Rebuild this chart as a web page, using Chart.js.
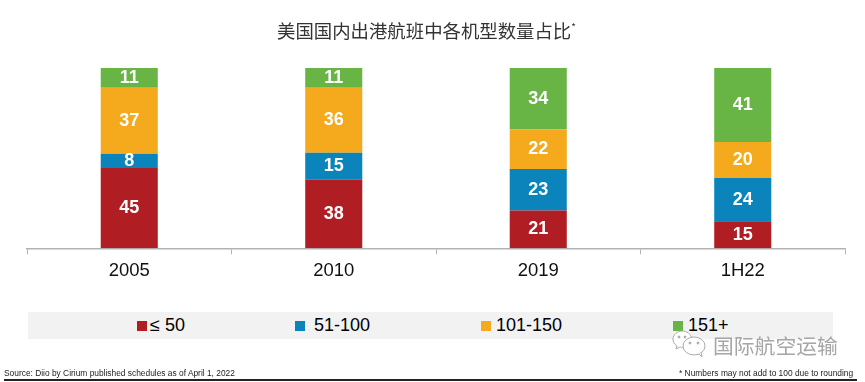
<!DOCTYPE html>
<html>
<head>
<meta charset="utf-8">
<script src="https://cdn.jsdelivr.net/npm/chart.js@4"></script>
<style>
  html, body { margin: 0; padding: 0; background: #fff; }
  #wrap { position: relative; width: 865px; height: 382px; overflow: hidden; font-family: "Liberation Sans", Arial, sans-serif; }
  #wrap canvas { position: absolute; left: 0; top: 0; }
  .abs { position: absolute; white-space: nowrap; }
  #title { left: 277px; top: 19px; font: 18.4px "Noto Sans CJK SC", sans-serif; line-height: 22px; color: #333; }
  #title sup { font-size: 10px; line-height: 0; }
  #band { left: 28px; top: 312px; width: 805px; height: 27px; background: #f2f2f2; }
  .swatch { position: absolute; top: 321px; width: 10px; height: 10px; }
  .legtext { top: 315px; font-size: 18px; line-height: 20px; color: #000; }
  .small { top: 368px; line-height: 10px; color: #222; }
  #rule { left: 4px; top: 379px; height: 2px; background: #222; width: 853px; }
  #mark { left: 672px; top: 327px; }
  #marktext { left: 713px; top: 332px; font: 20.8px "Noto Sans CJK SC", sans-serif; line-height: 26px; color: #a6a6a6; }
</style>
</head>
<body>
<div id="wrap">
  <canvas id="chart" width="865" height="382"></canvas>
  <div class="abs" id="title">美国国内出港航班中各机型数量占比<sup>*</sup></div>
  <div class="abs" id="band"></div>
  <div class="swatch" style="left:137px;background:#b01e23"></div>
  <div class="abs legtext" style="left:150px">≤ 50</div>
  <div class="swatch" style="left:295px;background:#0a84bb"></div>
  <div class="abs legtext" style="left:314px">51-100</div>
  <div class="swatch" style="left:481px;background:#f4aa1c"></div>
  <div class="abs legtext" style="left:496px">101-150</div>
  <div class="swatch" style="left:673px;background:#68b445"></div>
  <div class="abs legtext" style="left:688px">151+</div>
  <div class="abs small" style="left:4px;font-size:8.4px">Source: Diio by Cirium published schedules as of April 1, 2022</div>
  <div class="abs small" style="left:679px;font-size:8.4px">* Numbers may not add to 100 due to rounding</div>
  <div class="abs" id="rule"></div>
  <svg class="abs" id="mark" width="40" height="32" viewBox="0 0 40 32" fill="#fff" stroke="#aaa" stroke-width="1">
    <path d="M20 12c-1-5-5-8-10-8C5 4 1 8 1 12c0 3 1 5 4 7l-1 3 4-2c1 0 2 1 4 1"/>
    <ellipse cx="22" cy="19" rx="11" ry="9"/>
    <path d="M27 27l3 3-1-5"/>
    <circle cx="18" cy="16" r="1" fill="#aaa"/><circle cx="26" cy="16" r="1" fill="#aaa"/>
    <circle cx="7" cy="10" r="1" fill="#aaa"/><circle cx="13" cy="10" r="1" fill="#aaa"/>
  </svg>
  <div class="abs" id="marktext">国际航空运输</div>
</div>
<script>
// values
const categories = ["2005", "2010", "2019", "1H22"];
const seriesNames = ["≤ 50", "51-100", "101-150", "151+"];
const upTo50 = [45, 38, 21, 15];
const from51 = [8, 15, 23, 24];
const from101 = [37, 36, 22, 20];
const over151 = [11, 11, 34, 41];

const allSeries = [upTo50, from51, from101, over151];
const colors = ["#b01e23", "#0a84bb", "#f4aa1c", "#68b445"];

// every column is full height in the original, even where the numbers don't add to 100
const totals = categories.map((c, i) => allSeries.reduce((sum, s) => sum + s[i], 0));
function share(values) {
  return values.map((v, i) => (v / totals[i]) * 100);
}

// write the printed number in the middle of each segment
const barLabels = {
  id: "barLabels",
  afterDatasetsDraw(chart) {
    const ctx = chart.ctx;
    ctx.save();
    ctx.font = 'bold 18px "Liberation Sans", Arial, sans-serif';
    ctx.fillStyle = "#fff";
    ctx.textAlign = "center";
    ctx.textBaseline = "middle";
    chart.data.datasets.forEach((ds, d) => {
      chart.getDatasetMeta(d).data.forEach((bar, i) => {
        const mid = (bar.y + bar.base) / 2;
        ctx.fillText(allSeries[d][i], bar.x, mid);
      });
    });
    ctx.restore();
  },
};

new Chart(document.getElementById("chart").getContext("2d"), {
  type: "bar",
  data: {
    labels: categories,
    datasets: seriesNames.map((name, i) => ({
      label: name,
      data: share(allSeries[i]),
      backgroundColor: colors[i],
      barPercentage: 0.279,
      categoryPercentage: 1,
    })),
  },
  options: {
    responsive: false,
    animation: false,
    layout: { padding: { left: 27, right: 20, top: 68, bottom: 93.5 } },
    plugins: {
      legend: { display: false },
      tooltip: { enabled: false },
    },
    scales: {
      x: {
        stacked: true,
        border: { color: "#b3b3b3", width: 1.5 },
        grid: {
          offset: true,
          drawOnChartArea: false,
          color: "#b3b3b3",
          tickLength: 6,
          tickWidth: 1,
        },
        ticks: {
          color: "#111",
          padding: 6,
          maxRotation: 0,
          font: { family: '"Liberation Sans", Arial, sans-serif', size: 18.5 },
        },
      },
      y: { stacked: true, display: false, min: 0, max: 100 },
    },
  },
  plugins: [barLabels],
});
</script>
</body>
</html>
